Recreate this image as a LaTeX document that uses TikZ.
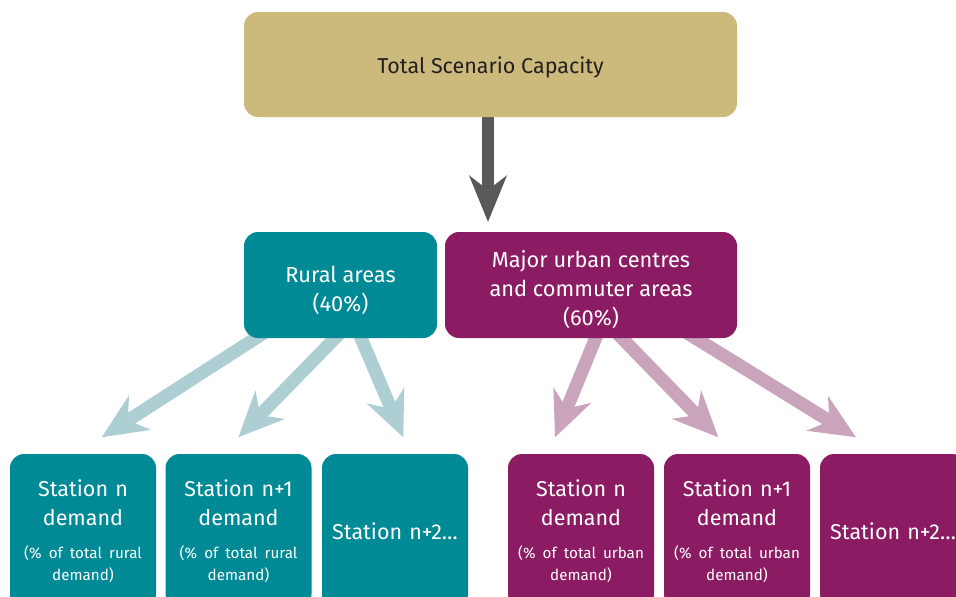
\documentclass[tikz,border=0pt]{standalone}
\usepackage{fontspec}
\setmainfont{Fira Sans}
\usetikzlibrary{arrows.meta,backgrounds}
\definecolor{tanbox}{HTML}{CCB97C}
\definecolor{tealbox}{HTML}{008A96}
\definecolor{plumbox}{HTML}{8B1C64}
\definecolor{lteal}{HTML}{ADCFD4}
\definecolor{lplum}{HTML}{C9A4BB}
\definecolor{dgrey}{HTML}{58595B}
\definecolor{darktext}{HTML}{231F20}
\begin{document}
\begin{tikzpicture}[x=1pt,y=-1pt,
  box/.style={rounded corners=14pt, inner sep=0pt, align=center, text=white},
  midbox/.style={box, minimum height=106pt},
  midtext/.style={inner sep=0pt, align=center, text=white, font=\fontsize{21.8}{29}\selectfont},
  stbox/.style={box, minimum width=146pt, minimum height=154pt, text width=144pt, font=\fontsize{21.5}{29}\selectfont},
  bigarrow/.style={line width=13pt, -{Stealth[length=45pt,width=40pt,inset=14pt]}},
]
\clip (0,0) rectangle (956,597);
\useasboundingbox (0,0) rectangle (956,597);

\node[box, fill=tanbox, minimum width=493pt, minimum height=105pt] (total) at (490.5,64.5) {};
\node[inner sep=0pt, text=darktext, font=\fontsize{21.5}{24}\selectfont] (totaltxt) at (490.5,67.5) {Total Scenario Capacity};

\node[midbox, fill=tealbox, minimum width=193pt] (rural) at (340.5,285) {};
\node[midtext] (ruraltxt) at (340.5,290) {Rural areas\\(40\%)};
\node[midbox, fill=plumbox, minimum width=292pt] (urban) at (591,285) {};
\node[midtext] (urbantxt) at (591,290) {Major urban centres\\and commuter areas\\(60\%)};

\newcommand{\subtxt}[1]{\par\vspace{10.5pt}{\fontsize{15.2}{22}\selectfont(\% of total #1\\demand)\par}}

\node[stbox, fill=tealbox] (r1) at (83,531) {Station n\\demand\subtxt{rural}};
\node[stbox, fill=tealbox] (r2) at (238.5,531) {Station n+1\\demand\subtxt{rural}};
\node[stbox, fill=tealbox] (r3) at (395,531) {Station n+2…};
\node[stbox, fill=plumbox] (u1) at (581,531) {Station n\\demand\subtxt{urban}};
\node[stbox, fill=plumbox] (u2) at (737,531) {Station n+1\\demand\subtxt{urban}};
\node[stbox, fill=plumbox] (u3) at (893,531) {Station n+2…};

% arrow end points
\coordinate (dstart) at (488,110);
\coordinate (dtip) at (488,222);
\coordinate (rs1) at (270,329);
\coordinate (rt1) at (101.7,437.3);
\coordinate (rs2) at (342,331);
\coordinate (rt2) at (238.3,437.3);
\coordinate (rs3) at (358,331);
\coordinate (rt3) at (403.3,437.3);
\coordinate (us1) at (599,330);
\coordinate (ut1) at (555,437.3);
\coordinate (us2) at (615,331);
\coordinate (ut2) at (718.3,437.3);
\coordinate (us3) at (684,331);
\coordinate (ut3) at (856,437.3);

\begin{scope}[on background layer]
\draw[bigarrow, dgrey, line width=12.6pt, -{Stealth[length=46pt,width=37pt,inset=14pt]}] (dstart) -- (dtip);
\draw[bigarrow, lteal] (rs1) -- (rt1);
\draw[bigarrow, lteal] (rs2) -- (rt2);
\draw[bigarrow, lteal] (rs3) -- (rt3);
\draw[bigarrow, lplum] (us1) -- (ut1);
\draw[bigarrow, lplum] (us2) -- (ut2);
\draw[bigarrow, lplum] (us3) -- (ut3);
\end{scope}
\end{tikzpicture}
\end{document}
